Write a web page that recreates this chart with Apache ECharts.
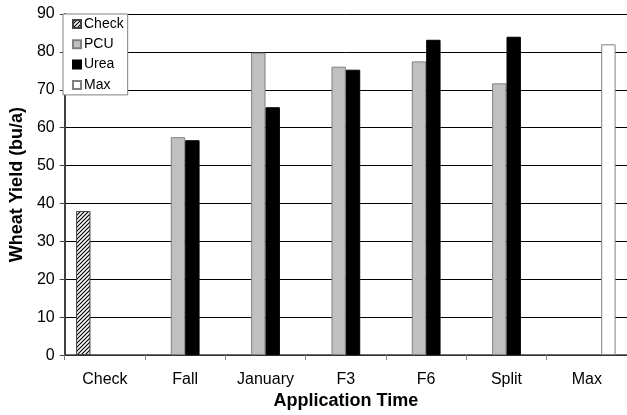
<!DOCTYPE html>
<html>
<head>
<meta charset="utf-8">
<script src="https://cdn.jsdelivr.net/npm/echarts@6/dist/echarts.min.js"></script>
<style>html,body{margin:0;padding:0;background:#fff;}#c{width:627px;height:415px;}</style>
</head>
<body>
<div id="c"></div>
<script>
var categories = ['Check', 'Fall', 'January', 'F3', 'F6', 'Split', 'Max'];
var checkVals = [38, null, null, null, null, null, null];
var pcuVals = [null, 57.5, 79.8, 76.1, 77.5, 71.7, null];
var ureaVals = [null, 56.7, 65.4, 75.3, 83.2, 84.0, null];
var maxVals = [null, null, null, null, null, null, 82.0];
var yTicks = [0, 10, 20, 30, 40, 50, 60, 70, 80, 90];

function hatch() {
  var s = 4;
  var cv = document.createElement('canvas');
  cv.width = s; cv.height = s;
  var g = cv.getContext('2d');
  g.fillStyle = '#fff'; g.fillRect(0, 0, s, s);
  g.strokeStyle = '#000'; g.lineWidth = 1.2;
  g.beginPath();
  g.moveTo(-1, s + 1); g.lineTo(s + 1, -1);
  g.moveTo(-1, 1); g.lineTo(1, -1);
  g.moveTo(s - 1, s + 1); g.lineTo(s + 1, s - 1);
  g.stroke();
  return cv;
}

var font = 'Liberation Sans, Arial, sans-serif';
var chart = echarts.init(document.getElementById('c'), null, {renderer: 'canvas'});
chart.setOption({
  animation: false,
  textStyle: {fontFamily: font},
  grid: {left: 63, top: 14, width: 574, height: 342, containLabel: false},
  legend: {
    orient: 'vertical', left: 63, top: 14,
    icon: 'rect',
    itemWidth: 8, itemHeight: 8, itemGap: 5.3,
    padding: [2.5, 4, 2.5, 9],
    backgroundColor: '#fff', borderColor: '#808080', borderWidth: 1,
    textStyle: {fontSize: 14, color: '#000', fontFamily: font, lineHeight: 15, padding: [0, 0, 0, -2]},
    data: ['Check', 'PCU', 'Urea', 'Max'],
    z: 10
  },
  xAxis: {
    type: 'category', data: categories,
    name: 'Application Time', nameLocation: 'middle', nameGap: 35,
    nameTextStyle: {fontSize: 18, fontWeight: 'bold', color: '#000', fontFamily: font},
    axisLine: {lineStyle: {color: '#404040', width: 1.5}},
    axisTick: {show: true, alignWithLabel: false, length: 5, lineStyle: {color: '#808080'}},
    axisLabel: {fontSize: 16, color: '#000', margin: 16, fontFamily: font}
  },
  yAxis: {
    type: 'value', min: 0, max: 90, interval: 10,
    name: 'Wheat Yield (bu/a)', nameLocation: 'middle', nameGap: 36,
    nameTextStyle: {fontSize: 18, fontWeight: 'bold', color: '#000', fontFamily: font},
    axisLine: {show: true, lineStyle: {color: '#404040', width: 2}},
    axisTick: {show: true, length: 5, lineStyle: {color: '#404040'}},
    axisLabel: {fontSize: 16, color: '#000', margin: 10, fontFamily: font,
      formatter: function (v) { return yTicks.indexOf(v) >= 0 ? String(v) : ''; }},
    splitLine: {show: true, lineStyle: {color: '#000', width: 1}}
  },
  series: [
    {name: 'Check', type: 'bar', data: checkVals, barGap: '0%', barCategoryGap: '28.4%',
      itemStyle: {color: {image: hatch(), repeat: 'repeat'}, borderColor: '#404040', borderWidth: 1}},
    {name: 'PCU', type: 'bar', data: pcuVals, barGap: '0%', barCategoryGap: '28.4%',
      itemStyle: {color: '#c0c0c0', borderColor: '#808080', borderWidth: 1}},
    {name: 'Urea', type: 'bar', data: ureaVals, barGap: '0%', barCategoryGap: '28.4%',
      itemStyle: {color: '#000', borderColor: '#000', borderWidth: 1}},
    {name: 'Max', type: 'bar', data: maxVals, barGap: '0%', barCategoryGap: '28.4%',
      itemStyle: {color: '#fff', borderColor: '#808080', borderWidth: 1}}
  ]
});
</script>
</body>
</html>
